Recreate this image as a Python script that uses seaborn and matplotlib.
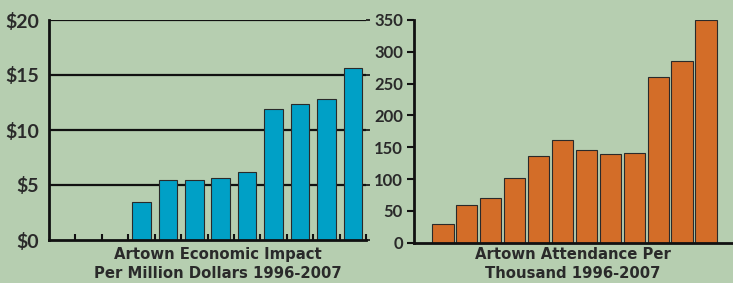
import matplotlib
matplotlib.use("Agg")
import matplotlib.pyplot as plt
import seaborn as sns
import numpy as np
import pandas as pd

# dados
anos = [str(a) for a in range(1996, 2008)]
impacto = [np.nan, np.nan, np.nan, 3.45, 5.5, 5.45, 5.6, 6.15, 11.9, 12.35, 12.85, 15.6]
publico = [30, 60, 71, 102, 137, 161, 146, 140, 141, 260, 285, 350]
ticks_impacto = [0, 5, 10, 15, 20]
rotulos_impacto = ["$0", "$5", "$10", "$15", "$20"]
ticks_publico = [0, 50, 100, 150, 200, 250, 300, 350]
titulo_esq = "Artown Economic Impact\nPer Million Dollars 1996-2007"
titulo_dir = "Artown Attendance Per\nThousand 1996-2007"

FUNDO = "#b6ceb0"
AZUL = "#00a0c6"
LARANJA = "#d36d28"
TEXTO = "#2a2a2a"
PRETO = "#111111"

sns.set_style("white")
plt.rcParams["font.family"] = ["Lato", "DejaVu Sans"]
plt.rcParams["font.weight"] = "bold"

fig = plt.figure(figsize=(7.33, 2.83), dpi=100, facecolor=FUNDO)
ax1 = fig.add_axes([49 / 733, 43 / 283, 317 / 733, 220 / 283])
ax2 = fig.add_axes([414 / 733, 40.3 / 283, 319 / 733, 222.7 / 283])

df1 = pd.DataFrame({"ano": anos, "valor": impacto})
df2 = pd.DataFrame({"ano": anos, "valor": publico})

# GRÁFICO 1
ax1.set_facecolor(FUNDO)
for y in ticks_impacto[1:]:
    ax1.axhline(y, color=PRETO, lw=1.6, zorder=0)
sns.barplot(data=df1.dropna(), x="ano", y="valor", order=anos, color=AZUL,
            width=0.7, edgecolor="#2a2a2a", linewidth=0.8, saturation=1,
            ax=ax1, zorder=2)
ax1.set_xlim(-0.5, 11.5)
ax1.set_ylim(0, 20)
ax1.set_yticks(ticks_impacto)
ax1.set_yticklabels(rotulos_impacto, fontsize=14, fontweight="bold", color=TEXTO)
ax1.set_xticks(np.arange(0.5, 11.6, 1))
ax1.set_xticklabels([])
ax1.tick_params(axis="x", bottom=True, direction="in", length=4, width=1.5,
                color=PRETO)
ax1.tick_params(axis="y", left=False, right=True, labelleft=True,
                labelright=False, direction="out", length=3, width=1.2,
                color=PRETO, pad=4)
for s in ["top", "right"]:
    ax1.spines[s].set_visible(False)
for s in ["left", "bottom"]:
    ax1.spines[s].set_color(PRETO)
    ax1.spines[s].set_linewidth(2)
ax1.set_xlabel("")
ax1.set_ylabel("")
fig.text(218 / 733, 1 - 264 / 283, titulo_esq, ha="center", va="center",
         fontsize=10.7, fontweight="bold", color=TEXTO, linespacing=1.35,
         family="DejaVu Sans")

# GRÁFICO 2
ax2.set_facecolor(FUNDO)
sns.barplot(data=df2, x="ano", y="valor", order=anos, color=LARANJA,
            width=0.89, edgecolor="#2a2a2a", linewidth=0.8, saturation=1,
            ax=ax2)
ax2.set_xlim(-1.21, 12.13)
ax2.set_ylim(0, 350)
ax2.set_yticks(ticks_publico)
ax2.set_yticklabels([str(t) for t in ticks_publico], fontsize=12,
                    fontweight="bold", color=TEXTO)
ax2.set_xticks([])
ax2.tick_params(axis="y", left=True, direction="out", length=5, width=1.5,
                color=PRETO, pad=3)
for s in ["top", "right"]:
    ax2.spines[s].set_visible(False)
for s in ["left", "bottom"]:
    ax2.spines[s].set_color(PRETO)
    ax2.spines[s].set_linewidth(2)
ax2.set_xlabel("")
ax2.set_ylabel("")
fig.text(573 / 733, 1 - 264 / 283, titulo_dir, ha="center", va="center",
         fontsize=10.7, fontweight="bold", color=TEXTO, linespacing=1.35,
         family="DejaVu Sans")

fig.savefig("out.png", dpi=100, facecolor=FUNDO)
